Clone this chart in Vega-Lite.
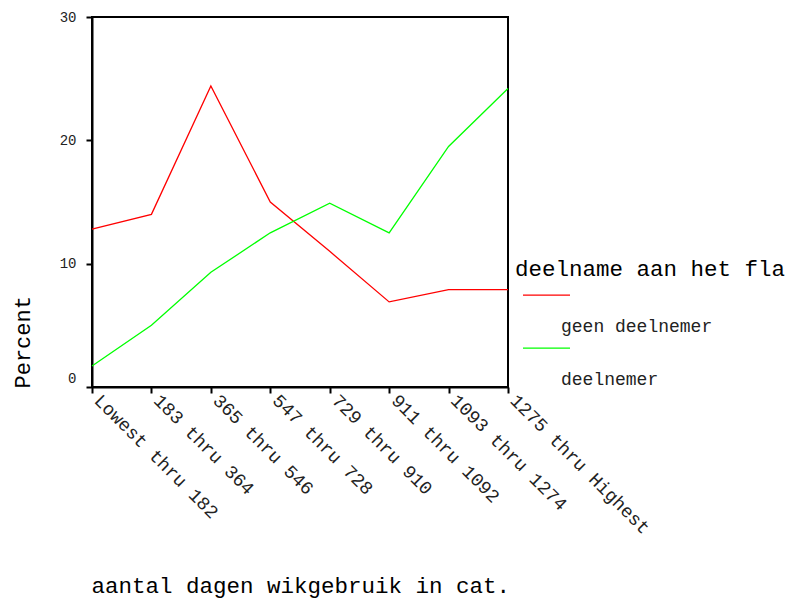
{
  "$schema": "https://vega.github.io/schema/vega-lite/v6.json",
  "autosize": "none",
  "width": 416,
  "height": 370,
  "padding": {"left": 92, "top": 17, "right": 284, "bottom": 215},
  "background": "white",
  "config": {
    "font": "Liberation Mono",
    "view": {"stroke": "black", "strokeWidth": 2}
  },
  "data": {
    "values": [
      {"cat": "Lowest thru 182", "grp": "geen deelnemer", "pct": 12.8},
      {"cat": "183 thru 364", "grp": "geen deelnemer", "pct": 14.0},
      {"cat": "365 thru 546", "grp": "geen deelnemer", "pct": 24.4},
      {"cat": "547 thru 728", "grp": "geen deelnemer", "pct": 15.0},
      {"cat": "729 thru 910", "grp": "geen deelnemer", "pct": 11.0},
      {"cat": "911 thru 1092", "grp": "geen deelnemer", "pct": 6.9},
      {"cat": "1093 thru 1274", "grp": "geen deelnemer", "pct": 7.9},
      {"cat": "1275 thru Highest", "grp": "geen deelnemer", "pct": 7.9},
      {"cat": "Lowest thru 182", "grp": "deelnemer", "pct": 1.7},
      {"cat": "183 thru 364", "grp": "deelnemer", "pct": 5.0},
      {"cat": "365 thru 546", "grp": "deelnemer", "pct": 9.3},
      {"cat": "547 thru 728", "grp": "deelnemer", "pct": 12.5},
      {"cat": "729 thru 910", "grp": "deelnemer", "pct": 14.9},
      {"cat": "911 thru 1092", "grp": "deelnemer", "pct": 12.5},
      {"cat": "1093 thru 1274", "grp": "deelnemer", "pct": 19.5},
      {"cat": "1275 thru Highest", "grp": "deelnemer", "pct": 24.2}
    ]
  },
  "mark": {"type": "line", "strokeWidth": 1.3},
  "encoding": {
    "x": {
      "field": "cat",
      "type": "ordinal",
      "sort": ["Lowest thru 182", "183 thru 364", "365 thru 546", "547 thru 728", "729 thru 910", "911 thru 1092", "1093 thru 1274", "1275 thru Highest"],
      "scale": {"type": "point", "padding": 0},
      "axis": {
        "title": "aantal dagen wikgebruik in cat.",
        "titleFont": "Liberation Mono",
        "titleFontSize": 22.5,
        "titleFontWeight": "normal",
        "titleColor": "black",
        "titleAnchor": "start",
        "titleAlign": "left",
        "titleBaseline": "alphabetic",
        "titleX": -1,
        "titleY": 205,
        "labelAngle": 45,
        "labelAlign": "left",
        "labelBaseline": "middle",
        "labelPadding": 4,
        "labelOffset": 5,
        "labelFontSize": 18.5,
        "labelColor": "#222",
        "labelLimit": 0,
        "labelOverlap": false,
        "labelBound": false,
        "tickSize": 6,
        "tickWidth": 2,
        "tickColor": "black",
        "domainColor": "black",
        "domainWidth": 2,
        "grid": false
      }
    },
    "y": {
      "field": "pct",
      "type": "quantitative",
      "scale": {"domain": [0, 30], "nice": false},
      "axis": {
        "title": "Percent",
        "titleFont": "Liberation Mono",
        "titleFontSize": 22,
        "titleFontWeight": "normal",
        "titleColor": "black",
        "titleAngle": -90,
        "titleAlign": "left",
        "titleBaseline": "middle",
        "titleX": -70,
        "titleY": 371,
        "values": [0, 10, 20, 30],
        "labelFontSize": 14,
        "labelColor": "#222",
        "labelPadding": 10,
        "labelOffset": {"condition": {"test": "datum.value === 0", "value": -9}, "value": 0},
        "tickSize": 6,
        "tickWidth": 2,
        "tickColor": "black",
        "domainColor": "black",
        "domainWidth": 2,
        "grid": false
      }
    },
    "color": {
      "field": "grp",
      "type": "nominal",
      "scale": {"domain": ["geen deelnemer", "deelnemer"], "range": ["#ff0000", "#00ff00"]},
      "legend": {
        "title": "deelname aan het fla",
        "orient": "none",
        "legendX": 423,
        "legendY": 241,
        "padding": 0,
        "titleFont": "Liberation Mono",
        "titleFontSize": 22.5,
        "titleFontWeight": "normal",
        "titleColor": "black",
        "titleLimit": 0,
        "titlePadding": 22,
        "symbolType": "M-1,-1.36H1",
        "symbolSize": 2209,
        "symbolStrokeWidth": 1.3,
        "symbolOffset": 7,
        "labelOffset": -10,
        "labelFontSize": 18,
        "labelColor": "#222",
        "labelBaseline": "middle",
        "labelLimit": 0,
        "rowPadding": 8
      }
    }
  }
}
